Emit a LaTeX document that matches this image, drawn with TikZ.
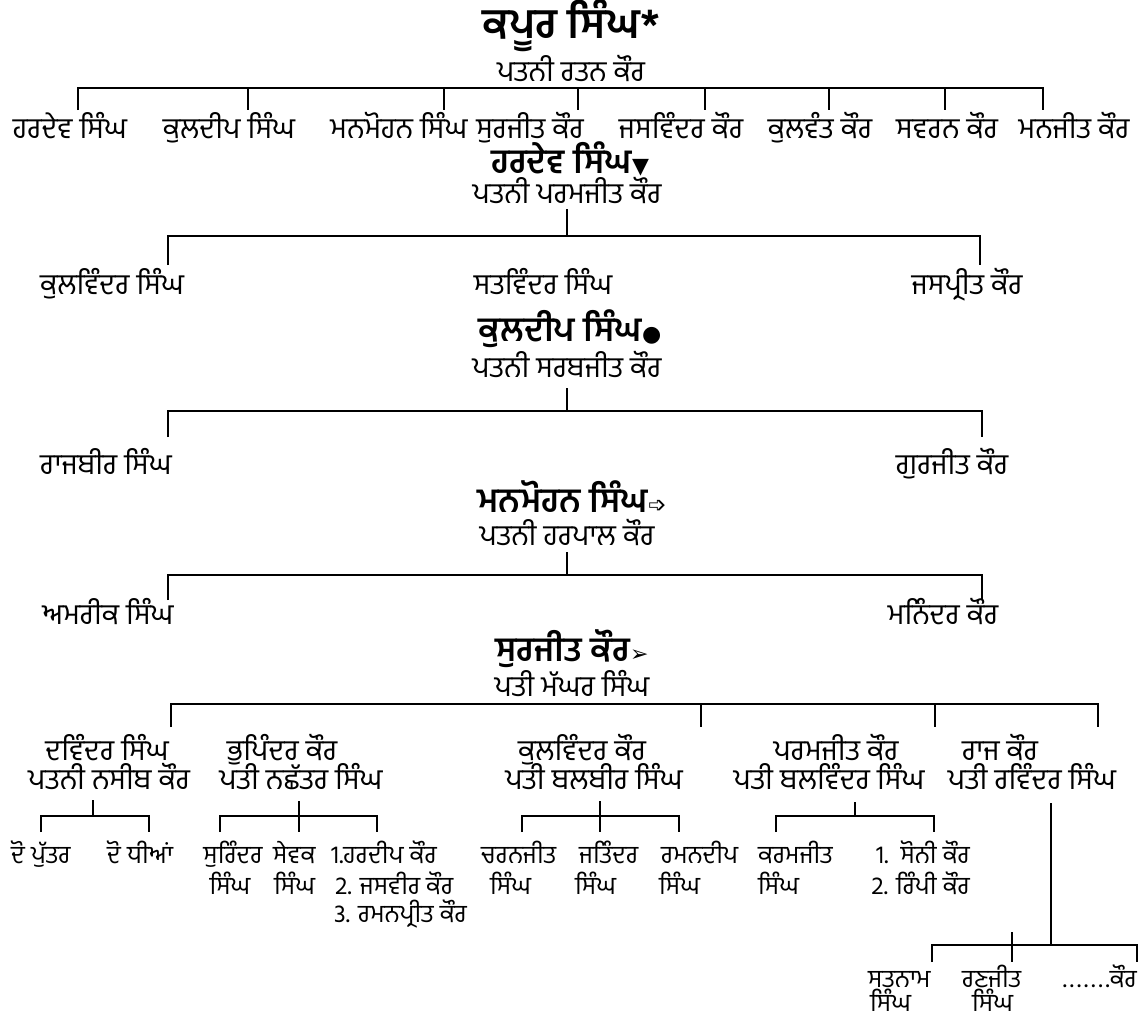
\documentclass[tikz,border=0pt]{standalone}
\usepackage{fontspec}
\newfontfamily\pa[Script=Gurmukhi]{Hind Jalandhar}
\newfontfamily\sym{DejaVu Sans}
\begin{document}
\begin{tikzpicture}[x=1pt,y=-1pt,
  lbl/.style={inner sep=0pt,anchor=base,font=\pa\fontsize{29}{32}\selectfont},
  gc/.style={inner sep=0pt,anchor=base,font=\pa\fontsize{25}{28}\selectfont},
  gl/.style={gc,anchor=base west},
  gr/.style={gc,anchor=base east},
  hd/.style={inner sep=0pt,anchor=base,font=\pa\bfseries\fontsize{34}{38}\selectfont},
  ttl/.style={inner sep=0pt,anchor=base,font=\pa\bfseries\fontsize{42}{46}\selectfont},
  ln/.style={line width=2.5pt},
  tk/.style={line width=2.2pt}]
\fill[white] (0,0) rectangle (1142,1028);
\useasboundingbox (0,0) rectangle (1142,1028);

% ---------- Kapur Singh
\node[ttl] (kapur) at (571,38) {ਕਪੂਰ ਸਿੰਘ*};
\node[lbl] (kapurw) at (571,81) {ਪਤਨੀ ਰਤਨ ਕੌਰ};
\coordinate (b0l) at (78,88); \coordinate (b0r) at (1043,88);
\coordinate (b0lb) at (78,110); \coordinate (b0rb) at (1043,110);
\draw[ln] (b0lb) -- (b0l) -- (b0r) -- (b0rb);
\foreach \x [count=\i] in {248,444,578,705,829,945}{
  \coordinate (t0-\i-a) at (\x,88); \coordinate (t0-\i-b) at (\x,110);
  \draw[tk] (t0-\i-a) -- (t0-\i-b);}
\node[lbl] (c1) at (70,138) {ਹਰਦੇਵ ਸਿੰਘ};
\node[lbl] (c2) at (229,138) {ਕੁਲਦੀਪ ਸਿੰਘ};
\node[lbl] (c3) at (399,138) {ਮਨਮੋਹਨ ਸਿੰਘ};
\node[lbl] (c4) at (530,138) {ਸੁਰਜੀਤ ਕੌਰ};
\node[lbl] (c5) at (681,138) {ਜਸਵਿੰਦਰ ਕੌਰ};
\node[lbl] (c6) at (820,138) {ਕੁਲਵੰਤ ਕੌਰ};
\node[lbl] (c7) at (947,138) {ਸਵਰਨ ਕੌਰ};
\node[lbl] (c8) at (1074,138) {ਮਨਜੀਤ ਕੌਰ};

% ---------- Hardev Singh
\node[hd] (hardev) at (570,173) {ਹਰਦੇਵ ਸਿੰਘ{\sym\fontsize{22}{22}\selectfont ▼}};
\node[lbl] (hardevw) at (567,203) {ਪਤਨੀ ਪਰਮਜੀਤ ਕੌਰ};
\coordinate (h0) at (567,209); \coordinate (h1) at (567,236);
\coordinate (hl) at (168,236); \coordinate (hr) at (980,236);
\coordinate (hlb) at (168,265); \coordinate (hrb) at (980,265);
\draw[ln] (hlb) -- (hl) -- (hr) -- (hrb);
\draw[tk] (h0) -- (h1);
\node[lbl] (h1n) at (112,294) {ਕੁਲਵਿੰਦਰ ਸਿੰਘ};
\node[lbl] (h2n) at (543,294) {ਸਤਵਿੰਦਰ ਸਿੰਘ};
\node[lbl] (h3n) at (967,294) {ਜਸਪ੍ਰੀਤ ਕੌਰ};

% ---------- Kuldeep Singh
\node[hd] (kuldeep) at (570,341) {ਕੁਲਦੀਪ ਸਿੰਘ{\sym\fontsize{22}{22}\selectfont ●}};
\node[lbl] (kuldeepw) at (567,377) {ਪਤਨੀ ਸਰਬਜੀਤ ਕੌਰ};
\coordinate (k0) at (567,388); \coordinate (k1) at (567,411);
\coordinate (kl) at (168,411); \coordinate (kr) at (982,411);
\coordinate (klb) at (168,437); \coordinate (krb) at (982,437);
\draw[ln] (klb) -- (kl) -- (kr) -- (krb);
\draw[tk] (k0) -- (k1);
\node[lbl] (k1n) at (106,474) {ਰਾਜਬੀਰ ਸਿੰਘ};
\node[lbl] (k2n) at (952,474) {ਗੁਰਜੀਤ ਕੌਰ};

% ---------- Manmohan Singh
\node[hd] (manmohan) at (572,512) {ਮਨਮੋਹਨ ਸਿੰਘ{\sym\fontsize{22}{22}\selectfont ➩}};
\node[lbl] (manmohanw) at (567,545) {ਪਤਨੀ ਹਰਪਾਲ ਕੌਰ};
\coordinate (m0) at (567,552); \coordinate (m1) at (567,575);
\coordinate (ml) at (168,575); \coordinate (mr) at (982,575);
\coordinate (mlb) at (168,600); \coordinate (mrb) at (982,600);
\draw[ln] (mlb) -- (ml) -- (mr) -- (mrb);
\draw[tk] (m0) -- (m1);
\node[lbl] (m1n) at (108,624) {ਅਮਰੀਕ ਸਿੰਘ};
\node[lbl] (m2n) at (943,624) {ਮਨਿੰਦਰ ਕੌਰ};

% ---------- Surjit Kaur
\node[hd] (surjit) at (572,661) {ਸੁਰਜੀਤ ਕੌਰ{\sym\fontsize{22}{22}\selectfont ➢}};
\node[lbl] (surjith) at (572,696) {ਪਤੀ ਮੱਘਰ ਸਿੰਘ};
\coordinate (sl) at (171,704); \coordinate (sr) at (1098,704);
\coordinate (slb) at (171,727); \coordinate (srb) at (1098,727);
\draw[ln] (slb) -- (sl) -- (sr) -- (srb);
\coordinate (s2a) at (701,704); \coordinate (s2b) at (701,727);
\coordinate (s3a) at (935,704); \coordinate (s3b) at (935,727);
\draw[tk] (s2a) -- (s2b); \draw[tk] (s3a) -- (s3b);

\node[lbl] (d1) at (107,760) {ਦਵਿੰਦਰ ਸਿੰਘ};
\node[lbl] (d2) at (109,789) {ਪਤਨੀ ਨਸੀਬ ਕੌਰ};
\node[lbl] (bh1) at (282,760) {ਭੁਪਿੰਦਰ ਕੌਰ};
\node[lbl] (bh2) at (301,789) {ਪਤੀ ਨਛੱਤਰ ਸਿੰਘ};
\node[lbl] (kw1) at (582,760) {ਕੁਲਵਿੰਦਰ ਕੌਰ};
\node[lbl] (kw2) at (594,789) {ਪਤੀ ਬਲਬੀਰ ਸਿੰਘ};
\node[lbl] (pj1) at (836,760) {ਪਰਮਜੀਤ ਕੌਰ};
\node[lbl] (pj2) at (829,789) {ਪਤੀ ਬਲਵਿੰਦਰ ਸਿੰਘ};
\node[lbl] (rj1) at (1000,760) {ਰਾਜ ਕੌਰ};
\node[lbl] (rj2) at (1032,789) {ਪਤੀ ਰਵਿੰਦਰ ਸਿੰਘ};

% sub-trees
% Davinder
\coordinate (da) at (93,800); \coordinate (db) at (93,816);
\coordinate (dl) at (41,816); \coordinate (dr) at (149,816);
\coordinate (dlb) at (41,832); \coordinate (drb) at (149,832);
\draw[ln] (dlb) -- (dl) -- (dr) -- (drb); \draw[tk] (da) -- (db);
% Bhupinder
\coordinate (ba) at (299,801); \coordinate (bb) at (299,832);
\coordinate (bl) at (220,816); \coordinate (br) at (377,816);
\coordinate (blb) at (220,832); \coordinate (brb) at (377,832);
\draw[ln] (blb) -- (bl) -- (br) -- (brb); \draw[tk] (ba) -- (bb);
% Kulwinder
\coordinate (ka) at (600,801); \coordinate (kb) at (600,832);
\coordinate (kwl) at (522,816); \coordinate (kwr) at (679,816);
\coordinate (kwlb) at (522,832); \coordinate (kwrb) at (679,832);
\draw[ln] (kwlb) -- (kwl) -- (kwr) -- (kwrb); \draw[tk] (ka) -- (kb);
% Paramjit
\coordinate (pa) at (855,802); \coordinate (pb) at (855,816);
\coordinate (pl) at (776,816); \coordinate (pr) at (934,816);
\coordinate (plb) at (776,832); \coordinate (prb) at (934,832);
\draw[ln] (plb) -- (pl) -- (pr) -- (prb); \draw[tk] (pa) -- (pb);
% Raj
\coordinate (ra) at (1051,803); \coordinate (rb) at (1051,945);
\coordinate (rl) at (932,945); \coordinate (rr) at (1137,945);
\coordinate (rlb) at (932,962); \coordinate (rrb) at (1137,962);
\coordinate (rma) at (1012,932); \coordinate (rmb) at (1012,962);
\draw[ln] (rlb) -- (rl) -- (rr) -- (rrb); \draw[tk] (ra) -- (rb); \draw[tk] (rma) -- (rmb);

% grandchildren
\node[gl] (g1) at (11,863) {ਦੋ ਪੁੱਤਰ};
\node[gl] (g2) at (107,863) {ਦੋ ਧੀਆਂ};
\node[gc] (g3a) at (233,863) {ਸੁਰਿੰਦਰ};
\node[gc] (g3b) at (230,894) {ਸਿੰਘ};
\node[gl] (g4a) at (273,863) {ਸੇਵਕ};
\node[gl] (g4b) at (274,894) {ਸਿੰਘ};
\node[gl] (g5a) at (331,863) {1.ਹਰਦੀਪ ਕੌਰ};
\node[gl] (g5b) at (335,894) {2. ਜਸਵੀਰ ਕੌਰ};
\node[gl] (g5c) at (334,922) {3. ਰਮਨਪ੍ਰੀਤ ਕੌਰ};
\node[gl] (g6a) at (481,863) {ਚਰਨਜੀਤ};
\node[gl] (g6b) at (490,894) {ਸਿੰਘ};
\node[gl] (g7a) at (579,863) {ਜਤਿੰਦਰ};
\node[gl] (g7b) at (575,894) {ਸਿੰਘ};
\node[gl] (g8a) at (661,863) {ਰਮਨਦੀਪ};
\node[gl] (g8b) at (659,894) {ਸਿੰਘ};
\node[gl] (g9a) at (758,863) {ਕਰਮਜੀਤ};
\node[gl] (g9b) at (758,894) {ਸਿੰਘ};
\node[gr] (g10a) at (970,863) {1.\ \ ਸੋਨੀ ਕੌਰ};
\node[gr] (g10b) at (970,894) {2. ਰਿੰਪੀ ਕੌਰ};
\node[gl] (g11a) at (868,987) {ਸਤਨਾਮ};
\node[gl] (g11b) at (870,1011) {ਸਿੰਘ};
\node[gl] (g12a) at (962,987) {ਰਣਜੀਤ};
\node[gl] (g12b) at (972,1011) {ਸਿੰਘ};
\node[gr] (g13) at (1137,987) {{\addfontfeature{LetterSpace=12}.......}ਕੌਰ};
\end{tikzpicture}
\end{document}
